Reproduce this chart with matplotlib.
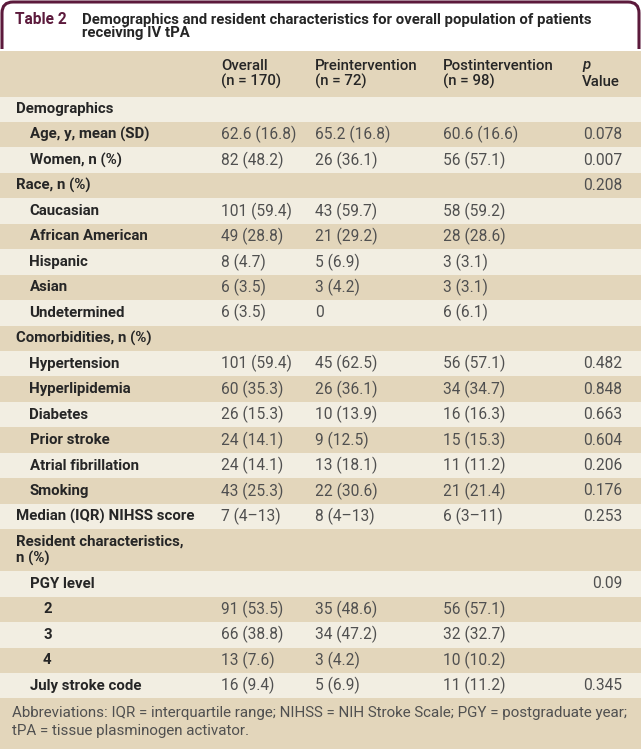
import matplotlib
matplotlib.use("Agg")
import matplotlib.pyplot as plt
from matplotlib.patches import Rectangle, FancyBboxPatch

# table content
title_tag = "Table 2"
title_lines = ["Demographics and resident characteristics for overall population of patients",
               "receiving IV tPA"]
col_heads = ["Overall\n(n = 170)", "Preintervention\n(n = 72)", "Postintervention\n(n = 98)"]

row_labels = ["Demographics", "Age, y, mean (SD)", "Women, n (%)", "Race, n (%)",
              "Caucasian", "African American", "Hispanic", "Asian", "Undetermined",
              "Comorbidities, n (%)", "Hypertension", "Hyperlipidemia", "Diabetes",
              "Prior stroke", "Atrial fibrillation", "Smoking", "Median (IQR) NIHSS score",
              "Resident characteristics,\nn (%)", "PGY level", "2", "3", "4", "July stroke code"]
row_indent = [0, 1, 1, 0, 1, 1, 1, 1, 1, 0, 1, 1, 1, 1, 1, 1, 0, 0, 1, 2, 2, 2, 1]
overall = ["", "62.6 (16.8)", "82 (48.2)", "", "101 (59.4)", "49 (28.8)", "8 (4.7)", "6 (3.5)",
           "6 (3.5)", "", "101 (59.4)", "60 (35.3)", "26 (15.3)", "24 (14.1)", "24 (14.1)",
           "43 (25.3)", "7 (4\u201313)", "", "", "91 (53.5)", "66 (38.8)", "13 (7.6)", "16 (9.4)"]
pre = ["", "65.2 (16.8)", "26 (36.1)", "", "43 (59.7)", "21 (29.2)", "5 (6.9)", "3 (4.2)",
       "0", "", "45 (62.5)", "26 (36.1)", "10 (13.9)", "9 (12.5)", "13 (18.1)",
       "22 (30.6)", "8 (4\u201313)", "", "", "35 (48.6)", "34 (47.2)", "3 (4.2)", "5 (6.9)"]
post = ["", "60.6 (16.6)", "56 (57.1)", "", "58 (59.2)", "28 (28.6)", "3 (3.1)", "3 (3.1)",
        "6 (6.1)", "", "56 (57.1)", "34 (34.7)", "16 (16.3)", "15 (15.3)", "11 (11.2)",
        "21 (21.4)", "6 (3\u201311)", "", "", "56 (57.1)", "32 (32.7)", "10 (10.2)", "11 (11.2)"]
p_values = ["", "0.078", "0.007", "0.208", "", "", "", "", "", "", "0.482", "0.848", "0.663",
            "0.604", "0.206", "0.176", "0.253", "", "0.09", "", "", "", "0.345"]
footnote = ("Abbreviations: IQR = interquartile range; NIHSS = NIH Stroke Scale; PGY = postgraduate year;\n"
            "tPA = tissue plasminogen activator.")

TAN = "#e3d6bb"
LIGHT = "#f2eee2"
MAROON = "#5c1a3c"
DARK = "#262626"
GREY = "#505050"

W, H = 641, 749
fig = plt.figure(figsize=(W / 100, H / 100), dpi=100)
ax = fig.add_axes([0, 0, 1, 1])
ax.set_xlim(0, W)
ax.set_ylim(H, 0)
ax.axis("off")

plt.rcParams["font.family"] = ["Roboto", "DejaVu Sans"]
fs_lab = 10.8
fs_val = 11.2
fs_head = 10.8

# title frame
frame = FancyBboxPatch((2, 2), W - 4, 80, boxstyle="round,pad=0,rounding_size=11",
                       facecolor="white", edgecolor=MAROON, linewidth=2.2, zorder=1)
ax.add_patch(frame)
ax.add_patch(Rectangle((0, 48.5), W, 60, facecolor="white", edgecolor="none", zorder=2))
ax.text(15, 20, title_tag, fontsize=11.2, fontweight="bold", color=MAROON, va="center", zorder=3)
ax.text(82, 20, title_lines[0], fontsize=10.7, fontweight="bold", color=DARK, va="center", zorder=3)
ax.text(82, 32.5, title_lines[1], fontsize=10.7, fontweight="bold", color=DARK, va="center", zorder=3)

col_x = [221, 315, 443]
p_right = 622

# header
ax.add_patch(Rectangle((0, 50.5), W, 46, facecolor=TAN, edgecolor="none", zorder=3))
for cx, h in zip(col_x, col_heads):
    ax.text(cx, 74, h, fontsize=fs_head, fontweight="medium", color=DARK, va="center",
            linespacing=1.15, zorder=4)
ax.text(582, 65.5, "p", fontsize=fs_head, fontweight="medium", color=DARK, va="center",
        style="italic", zorder=4)
ax.text(582, 82.5, "Value", fontsize=fs_head, fontweight="medium", color=DARK, va="center", zorder=4)

y = 96.5
rh = 25.45
for i, lab in enumerate(row_labels):
    h = 42 if "\n" in lab else rh
    color = LIGHT if i % 2 == 0 else TAN
    ax.add_patch(Rectangle((0, y), W, h, facecolor=color, edgecolor="none", zorder=3))
    yc = y + h / 2
    ax.text(16 + 13.5 * row_indent[i], yc, lab, fontsize=fs_lab, fontweight="bold", color=DARK,
            va="center", linespacing=1.2, zorder=4)
    for cx, v in zip(col_x, [overall[i], pre[i], post[i]]):
        if v:
            ax.text(cx, yc, v, fontsize=fs_val, color=GREY, va="center", zorder=4)
    if p_values[i]:
        ax.text(p_right, yc, p_values[i], fontsize=fs_val, color=GREY,
                va="center", ha="right", zorder=4)
    y += h

ax.add_patch(Rectangle((0, y), W, H - y, facecolor=TAN, edgecolor="none", zorder=3))
ax.text(12, y + 8, footnote, fontsize=10.9, color=GREY,
        va="top", linespacing=1.35, zorder=4)

fig.savefig("out.png", dpi=100)
